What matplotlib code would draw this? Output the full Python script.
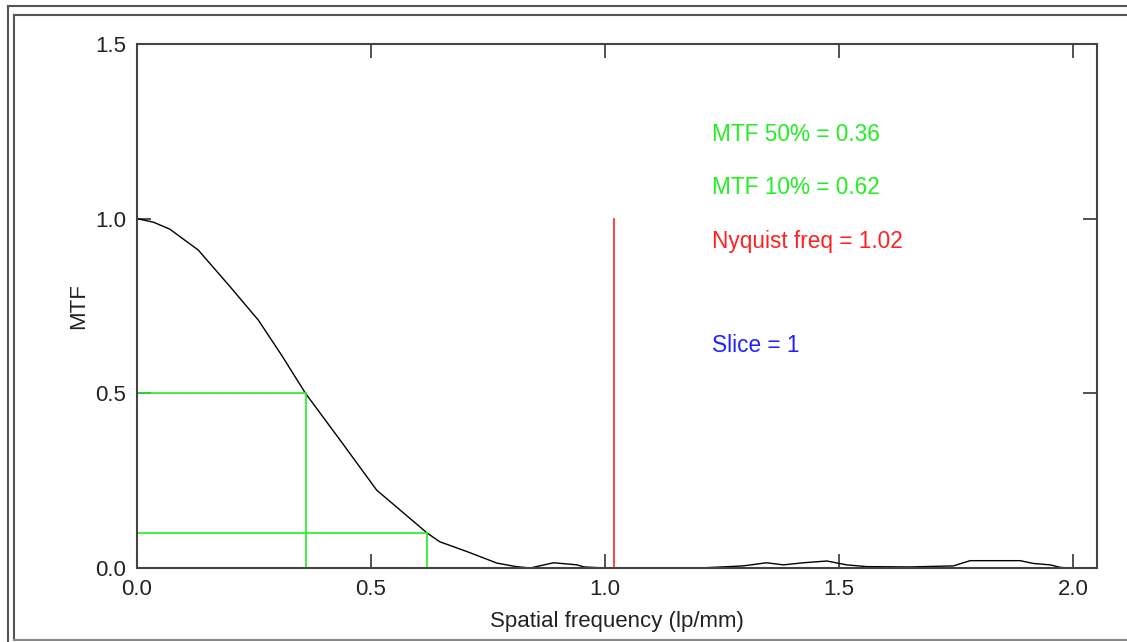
import numpy as np
import matplotlib
matplotlib.use("Agg")
import matplotlib.pyplot as plt
from matplotlib.lines import Line2D

plt.rcParams['font.family'] = ['Liberation Sans', 'DejaVu Sans']

# MTF curve samples (spatial frequency in lp/mm, MTF)
freq = [0.0, 0.035, 0.07, 0.131, 0.199, 0.259, 0.31, 0.36, 0.434, 0.512, 0.562,
        0.62, 0.647, 0.705, 0.769, 0.81, 0.84, 0.89, 0.94, 0.955, 1.0, 1.1, 1.2,
        1.25, 1.295, 1.345, 1.381, 1.424, 1.474, 1.516, 1.559, 1.65, 1.744, 1.78,
        1.83, 1.887, 1.915, 1.951, 1.972, 1.99, 2.05]
mtf = [1.0, 0.99, 0.97, 0.91, 0.805, 0.71, 0.607, 0.5, 0.366, 0.223, 0.166,
       0.1, 0.075, 0.047, 0.014, 0.004, 0.0, 0.015, 0.009, 0.003, 0.0, 0.0, 0.0,
       0.003, 0.006, 0.015, 0.009, 0.015, 0.02, 0.009, 0.004, 0.003, 0.006, 0.021,
       0.021, 0.021, 0.013, 0.009, 0.002, 0.0, 0.0]

mtf50 = 0.36
mtf10 = 0.62
nyquist = 1.02
slice_no = 1

W, H = 1127, 642
fig = plt.figure(figsize=(W / 100, H / 100), dpi=100)
ax = fig.add_axes([137 / W, 1 - 568 / H, (1097 - 137) / W, (568 - 44) / H])

ax.plot(freq, mtf, color='black', lw=1.0)

green = '#22ee22'
ax.plot([0, mtf50], [0.5, 0.5], color=green, lw=1.2)
ax.plot([mtf50, mtf50], [0, 0.5], color=green, lw=1.2)
ax.plot([0, mtf10], [0.1, 0.1], color=green, lw=1.2)
ax.plot([mtf10, mtf10], [0, 0.1], color=green, lw=1.2)
ax.plot([nyquist, nyquist], [0, 1.0], color='#ff2222', lw=1.2)

ax.set_xlim(0, 2.051)
ax.set_ylim(0, 1.5)
ax.set_xticks([0.0, 0.5, 1.0, 1.5, 2.0])
ax.set_yticks([0.0, 0.5, 1.0, 1.5])
ax.xaxis.set_major_formatter(matplotlib.ticker.FormatStrFormatter('%.1f'))
ax.yaxis.set_major_formatter(matplotlib.ticker.FormatStrFormatter('%.1f'))
ax.tick_params(direction='in', length=10, width=1.2, color='#333333',
               labelsize=16, top=True, right=True, pad=8, labelcolor='#222222')
for s in ax.spines.values():
    s.set_color('#444444')
    s.set_linewidth(1.5)

ax.set_xlabel('Spatial frequency (lp/mm)', fontsize=16, color='#222222', labelpad=8)
ax.set_ylabel('MTF', fontsize=16, color='#222222', labelpad=4)

fs = 16.3
ax.text(1.229, 1.24, f'MTF 50% = {mtf50:.2f}', color=green, fontsize=fs, va='center')
ax.text(1.229, 1.088, f'MTF 10% = {mtf10:.2f}', color=green, fontsize=fs, va='center')
ax.text(1.229, 0.936, f'Nyquist freq = {nyquist:.2f}', color='#ff2222', fontsize=fs, va='center')
ax.text(1.229, 0.636, f'Slice = {slice_no}', color='#2222ff', fontsize=fs, va='center')

# window frame around the plot
def px_line(xs, ys, **kw):
    fig.add_artist(Line2D([x / W for x in xs], [1 - y / H for y in ys],
                          transform=fig.transFigure, **kw))

frame = dict(color='#555555', lw=1.5)
px_line([8, W], [6, 6], **frame)
px_line([8, 8], [6, H], **frame)
px_line([14, W], [15, 15], **frame)
px_line([14, 14], [15, 640], **frame)
px_line([14, W], [640, 640], color='#888888', lw=1.5)

fig.savefig('out.png', dpi=100)
